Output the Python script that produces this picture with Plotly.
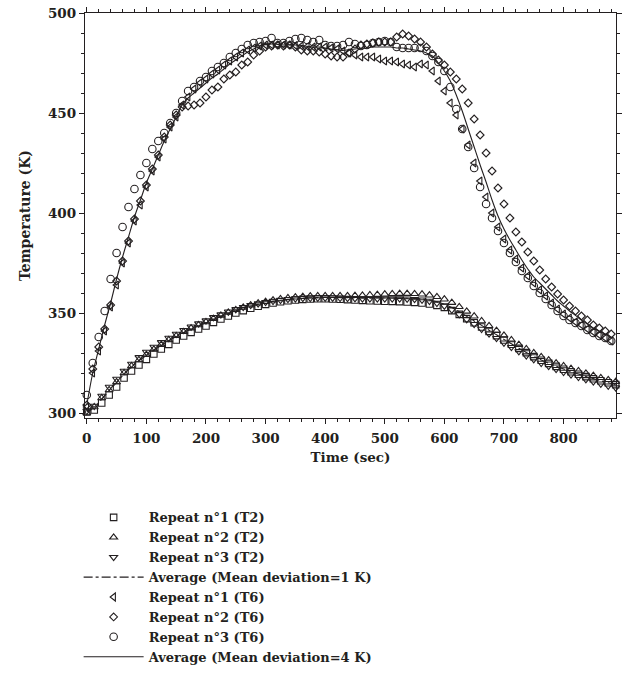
import plotly.graph_objects as go

# ---------------- data ----------------
# T6 series sampled every 10 s (0 .. 880 s)
time_t6 = [i * 10 for i in range(89)]

t6_rep1 = [303, 320, 331, 341, 353, 364, 375, 385, 396, 404,
           413, 421, 428, 437, 443, 448, 454, 458, 462, 465,
           467, 469.5, 471.5, 474, 476, 478, 480, 481.5, 482.5, 483.5,
           484, 484, 484, 484, 484, 483.8, 483.5, 483.3, 483, 483,
           483, 482.5, 482, 481, 480, 479, 478, 478, 478, 477,
           476, 476, 475.5, 474.5, 474, 473, 474.5, 474, 471, 466,
           461, 455, 449, 442, 434, 425, 416, 408, 400, 393,
           387, 381.5, 377, 372.5, 368.5, 365, 361.5, 358.5, 355, 352,
           349.5, 347.5, 345.5, 344, 342, 340.5, 339, 337.5, 336]

t6_rep2 = [304, 322, 333, 342, 354, 366, 376, 386, 397, 406,
           414, 422, 429, 438, 444, 449, 453, 453.5, 454, 455,
           458, 461.5, 463, 467, 469, 470.5, 474, 475.5, 479, 481,
           483, 483.5, 484, 483.5, 484, 483, 481.5, 481, 481, 480.5,
           479.5, 478.5, 478, 478, 480, 482, 484, 484.5, 485, 485.5,
           485.5, 485.5, 488, 489.5, 488.5, 487, 485.5, 483, 479.5, 476.5,
           474, 470.5, 467, 462, 455, 447, 439, 430, 421, 412.5,
           404.5, 397.5, 390.5, 385.5, 380.5, 376, 371.5, 367, 363, 359.5,
           356.5, 353.5, 351, 348.5, 346.5, 344, 342.5, 341, 339.5]

t6_rep3 = [309, 325, 338, 351, 367, 380, 393, 403, 412, 419,
           425, 432, 436, 440, 445, 450, 456, 461, 463, 466,
           468, 471, 473, 475, 478, 480, 482, 484, 485, 485.5,
           486, 487.5, 485, 485, 486, 487, 487.5, 486.5, 485.5, 486.5,
           484, 483.5, 483.5, 484, 485.5, 484.5, 483.5, 484, 485, 485.5,
           486, 485.5, 483, 482.5, 482.5, 482.5, 482.5, 481, 478.5, 475.5,
           471, 463, 452, 442, 433, 422.5, 413, 404.5, 397.5, 391,
           385, 380, 375.5, 371, 367.5, 363.5, 360, 357, 354, 351,
           348.5, 346.5, 345, 343.5, 341.5, 340, 338.5, 337.5, 336]

t6_avg = [304, 320, 332, 344, 355, 367, 378, 388, 398, 406.5,
          415, 422, 429, 436, 442, 448, 454, 457.5, 460, 462.5,
          465, 467.5, 469.5, 472, 474.5, 476.5, 478.5, 480.5, 482, 483.3,
          484.3, 484.5, 484.3, 484, 484, 484, 483.8, 483.3, 483, 483,
          482.5, 482, 481.5, 481.3, 481.7, 482, 482.3, 482.5, 483, 483,
          483, 483, 482.5, 482.5, 482, 481.5, 481, 480, 478.5, 475,
          471, 466, 459, 451, 442, 433, 424, 415.5, 406.5, 398.5,
          392, 386.5, 381.5, 376.5, 372, 368, 365, 362, 359, 356,
          353.5, 351, 348.8, 346.5, 344.5, 342.5, 341, 339.5, 338]

# T2 series sampled every 12.5 s (0 .. 887.5 s)
time_t2 = [i * 12.5 for i in range(72)]

t2_rep1 = [300.5, 301.5, 305, 309, 313, 317.5, 321, 324, 326.8, 329.5,
           332, 334.3, 336.5, 338.5, 340.3, 342, 343.5, 345.3, 347, 348.5,
           350, 351.2, 352.4, 353.4, 354.3, 355, 355.6, 356.1, 356.5, 356.8,
           357, 357.1, 357.1, 357, 356.9, 356.7, 356.5, 356.3, 356.1, 356,
           355.9, 355.8, 355.7, 355.5, 355.3, 355, 354.5, 353.8, 352.8, 351.2,
           349.3, 347.2, 345.1, 343, 340.8, 338.7, 336.5, 334.4, 332.3, 330.2,
           328.2, 326.4, 324.8, 323.3, 321.9, 320.6, 319.4, 318.2, 317.1, 316.1,
           315.1, 314.2]

t2_rep2 = [300, 303, 307.5, 311.5, 315.5, 320, 323.5, 326.5, 329.2, 331.8,
           334.2, 336.5, 338.6, 340.6, 342.4, 344, 345.5, 347.2, 348.8, 350.3,
           351.6, 352.8, 353.9, 354.9, 355.7, 356.4, 357, 357.5, 357.9, 358.2,
           358.4, 358.5, 358.6, 358.6, 358.6, 358.6, 358.7, 358.8, 359, 359.2,
           359.4, 359.6, 359.7, 359.7, 359.6, 359.4, 358.9, 358.1, 356.9, 355.2,
           353.1, 350.8, 348.4, 346, 343.6, 341.2, 338.8, 336.5, 334.2, 332,
           330, 328.1, 326.4, 324.9, 323.5, 322.2, 321, 319.8, 318.7, 317.6,
           316.6, 315.7]

t2_rep3 = [301, 303.5, 308.5, 313, 317, 321, 324.5, 327.8, 330.5, 333,
           335.3, 337.5, 339.5, 341.4, 343.1, 344.7, 346.2, 347.8, 349.2, 350.6,
           351.8, 352.9, 353.9, 354.7, 355.4, 356, 356.5, 356.9, 357.2, 357.4,
           357.5, 357.6, 357.6, 357.6, 357.5, 357.4, 357.3, 357.2, 357.2, 357.2,
           357.2, 357.2, 357.2, 357.1, 356.9, 356.6, 356, 355, 353.6, 351.6,
           349.3, 346.8, 344.4, 342, 339.7, 337.4, 335.1, 332.9, 330.8, 328.7,
           326.8, 325, 323.4, 321.9, 320.5, 319.2, 318, 316.8, 315.7, 314.6,
           313.6, 312.7]

t2_avg = [300.5, 302.7, 307, 311.2, 315.2, 319.5, 323, 326.1, 328.8, 331.4,
          333.8, 336.1, 338.2, 340.2, 341.9, 343.6, 345.1, 346.8, 348.3, 349.8,
          351.1, 352.3, 353.4, 354.3, 355.1, 355.8, 356.4, 356.8, 357.2, 357.5,
          357.6, 357.7, 357.8, 357.7, 357.7, 357.6, 357.5, 357.4, 357.4, 357.5,
          357.5, 357.5, 357.5, 357.4, 357.3, 357, 356.5, 355.6, 354.4, 352.7,
          350.6, 348.3, 346, 343.8, 341.4, 339.1, 336.8, 334.6, 332.4, 330.3,
          328.3, 326.5, 324.9, 323.4, 322, 320.7, 319.5, 318.3, 317.2, 316.1,
          315.1, 314.2]

legend_names = [
    "Repeat n°1 (T2)", "Repeat n°2 (T2)", "Repeat n°3 (T2)",
    "Average (Mean deviation=1 K)",
    "Repeat n°1 (T6)", "Repeat n°2 (T6)", "Repeat n°3 (T6)",
    "Average (Mean deviation=4 K)",
]

x_ticks = [0, 100, 200, 300, 400, 500, 600, 700, 800]
y_ticks = [300, 350, 400, 450, 500]

# ---------------- styling ----------------
INK = "#231f20"
FONT = "DejaVu Serif"

def marker_trace(x, y, name, symbol, size):
    return go.Scatter(
        x=x, y=y, name=name, mode="markers", cliponaxis=False,
        marker=dict(symbol=symbol, size=size, color=INK,
                    line=dict(color=INK, width=1.1)),
    )

def line_trace(x, y, name, dash):
    return go.Scatter(
        x=x, y=y, name=name, mode="lines",
        line=dict(color=INK, width=1.1, dash=dash, shape="spline"),
    )

fig = go.Figure()
fig.add_trace(marker_trace(time_t2, t2_rep1, legend_names[0], "square-open", 6.5))
fig.add_trace(marker_trace(time_t2, t2_rep2, legend_names[1], "triangle-up-open", 7))
fig.add_trace(marker_trace(time_t2, t2_rep3, legend_names[2], "triangle-down-open", 7))
fig.add_trace(line_trace(time_t2, t2_avg, legend_names[3], "dashdot"))
fig.add_trace(marker_trace(time_t6, t6_rep1, legend_names[4], "triangle-left-open", 7))
fig.add_trace(marker_trace(time_t6, t6_rep2, legend_names[5], "diamond-open", 6))
fig.add_trace(marker_trace(time_t6, t6_rep3, legend_names[6], "circle-open", 7.5))
fig.add_trace(line_trace(time_t6, t6_avg, legend_names[7], "solid"))

TICKFONT = dict(family=FONT, size=13.5, color=INK, weight="bold")
TITLEFONT = dict(family=FONT, size=14, color=INK, weight="bold")

axis_common = dict(
    showline=True, linecolor=INK, linewidth=1.3, mirror="ticks",
    ticks="outside", ticklen=5, tickwidth=1.2, tickcolor=INK,
    showgrid=False, zeroline=False, tickfont=TICKFONT,
)

fig.update_xaxes(
    range=[-3, 888], tickmode="array", tickvals=x_ticks,
    ticktext=[str(v) for v in x_ticks],
    minor=dict(dtick=20, ticklen=3, tickcolor=INK, ticks="outside"),
    title=dict(text="Time (sec)", font=TICKFONT, standoff=7),
    ticklabelstandoff=3,
    **axis_common,
)
fig.update_yaxes(
    range=[297.5, 500], tickmode="array", tickvals=y_ticks,
    ticktext=[str(v) for v in y_ticks],
    minor=dict(dtick=10, ticklen=3, tickcolor=INK, ticks="outside"),
    title=dict(text="Temperature (K)", font=TITLEFONT, standoff=14),
    **axis_common,
)

fig.update_layout(
    width=632, height=676,
    margin=dict(l=85, r=16, t=13, b=258, autoexpand=False),
    paper_bgcolor="white", plot_bgcolor="white",
    showlegend=True,
    legend=dict(
        x=-0.012, y=-0.2085, xanchor="left", yanchor="top",
        font=dict(family=FONT, size=13, color=INK, weight="bold"),
        tracegroupgap=0, itemwidth=60, bgcolor="rgba(0,0,0,0)",
    ),
)

fig.write_html("out.html")
